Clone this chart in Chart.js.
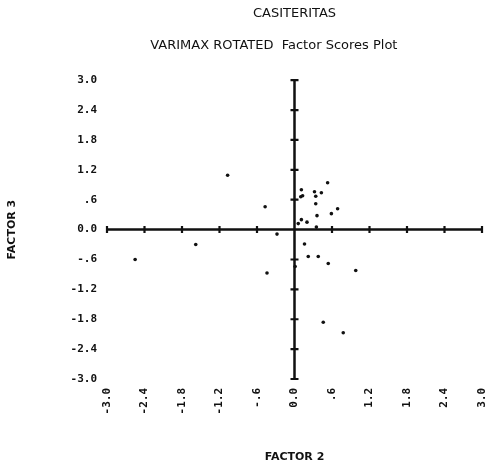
<!DOCTYPE html>
<html>
<head>
<meta charset="utf-8">
<script src="https://cdn.jsdelivr.net/npm/chart.js@4/dist/chart.umd.min.js"></script>
<style>
  html, body { margin: 0; padding: 0; background: #fff; }
  #wrap { width: 486px; height: 469px; position: relative; }
</style>
</head>
<body>
<div id="wrap"><canvas id="c" width="486" height="469"></canvas></div>
<script>
// ---- data ----
const factor2 = [-1.07, -0.47, -0.28, -1.58, -2.55, -0.44,
  0.53, 0.11, 0.10, 0.13, 0.32, 0.34, 0.43, 0.34, 0.69, 0.59, 0.36, 0.11, 0.20, 0.06, 0.35,
  0.16, 0.22, 0.38, 0.01, 0.54, 0.98, 0.46, 0.78];
const factor3 = [1.09, 0.46, -0.09, -0.30, -0.60, -0.87,
  0.94, 0.80, 0.66, 0.68, 0.76, 0.67, 0.74, 0.52, 0.42, 0.32, 0.28, 0.20, 0.15, 0.12, 0.05,
  -0.29, -0.54, -0.54, -0.74, -0.68, -0.82, -1.86, -2.07];
const tickValues = [-3.0, -2.4, -1.8, -1.2, -0.6, 0.0, 0.6, 1.2, 1.8, 2.4, 3.0];
const xTickLabels = ['-3.0', '-2.4', '-1.8', '-1.2', '-.6', '0.0', '.6', '1.2', '1.8', '2.4', '3.0'];
const yTickLabels = ['-3.0', '-2.4', '-1.8', '-1.2', '-.6', '0.0', '.6', '1.2', '1.8', '2.4', '3.0'];
const titleText = 'CASITERITAS';
const subtitleText = 'VARIMAX ROTATED  Factor Scores Plot';
const xTitle = 'FACTOR 2';
const yTitle = 'FACTOR 3';

const points = factor2.map((x, i) => ({ x: x, y: factor3[i] }));

const tickFont = { family: 'DejaVu Sans Mono', size: 11, weight: 'bold' };
const axisTitleFont = { family: 'DejaVu Sans', size: 11, weight: 'bold' };

// Axes drawn through the origin, with cross tick marks
const centerAxes = {
  id: 'centerAxes',
  afterDatasetsDraw(chart) {
    const { ctx, scales: { x, y } } = chart;
    const x0 = x.getPixelForValue(0);
    const y0 = y.getPixelForValue(0);
    const xl = x.getPixelForValue(tickValues[0]);
    const xr = x.getPixelForValue(tickValues[tickValues.length - 1]);
    const yt = y.getPixelForValue(tickValues[tickValues.length - 1]);
    const yb = y.getPixelForValue(tickValues[0]);
    ctx.save();
    ctx.strokeStyle = '#111';
    ctx.lineCap = 'butt';
    ctx.lineWidth = 2.5;
    ctx.beginPath();
    ctx.moveTo(xl, y0); ctx.lineTo(xr, y0);
    ctx.moveTo(x0, yt); ctx.lineTo(x0, yb);
    ctx.stroke();
    ctx.lineWidth = 2.2;
    ctx.beginPath();
    tickValues.forEach(v => {
      if (v === 0) return;
      const px = x.getPixelForValue(v);
      ctx.moveTo(px, y0 - 3.5); ctx.lineTo(px, y0 + 3.5);
      const py = y.getPixelForValue(v);
      ctx.moveTo(x0 - 4, py); ctx.lineTo(x0 + 4, py);
    });
    ctx.stroke();
    ctx.restore();
  }
};

new Chart(document.getElementById('c'), {
  type: 'scatter',
  data: {
    datasets: [{
      data: points,
      backgroundColor: '#111',
      borderWidth: 0,
      pointRadius: 1.8,
      pointHoverRadius: 1.8
    }]
  },
  options: {
    responsive: false,
    animation: false,
    events: [],
    layout: { padding: { left: 0, right: 4, top: 0, bottom: 0 } },
    plugins: {
      legend: { display: false },
      tooltip: { enabled: false },
      title: {
        display: true, text: titleText, fullSize: false, color: '#111',
        font: { family: 'DejaVu Sans', size: 13, weight: 'normal' },
        padding: { top: 6, bottom: 16 }
      },
      subtitle: {
        display: true, text: subtitleText + '          ', fullSize: false, color: '#111',
        font: { family: 'DejaVu Sans', size: 13, weight: 'normal' },
        padding: { top: 0, bottom: 27 }
      }
    },
    scales: {
      x: {
        type: 'linear', min: -3, max: 3,
        grid: { display: false, drawTicks: false },
        border: { display: false },
        afterBuildTicks(s) { s.ticks = tickValues.map(v => ({ value: v })); },
        afterFit(s) { s.height = 90; s.paddingLeft = 0; s.paddingRight = 0; },
        ticks: {
          color: '#111', font: tickFont, padding: 9,
          minRotation: 90, maxRotation: 90, autoSkip: false,
          callback: (v, i) => xTickLabels[i]
        },
        title: {
          display: true, text: xTitle, color: '#111', font: axisTitleFont,
          padding: { top: 30, bottom: 5 }
        }
      },
      y: {
        type: 'linear', min: -3, max: 3,
        grid: { display: false, drawTicks: false },
        border: { display: false },
        afterBuildTicks(s) { s.ticks = tickValues.map(v => ({ value: v })); },
        afterFit(s) { s.width = 107; s.paddingTop = 0; s.paddingBottom = 0; },
        ticks: {
          color: '#111', font: tickFont, padding: 10, autoSkip: false,
          callback: (v, i) => yTickLabels[i]
        },
        title: {
          display: true, text: yTitle, color: '#111', font: axisTitleFont,
          padding: { top: 6, bottom: 40 }
        }
      }
    }
  },
  plugins: [centerAxes]
});
</script>
</body>
</html>
